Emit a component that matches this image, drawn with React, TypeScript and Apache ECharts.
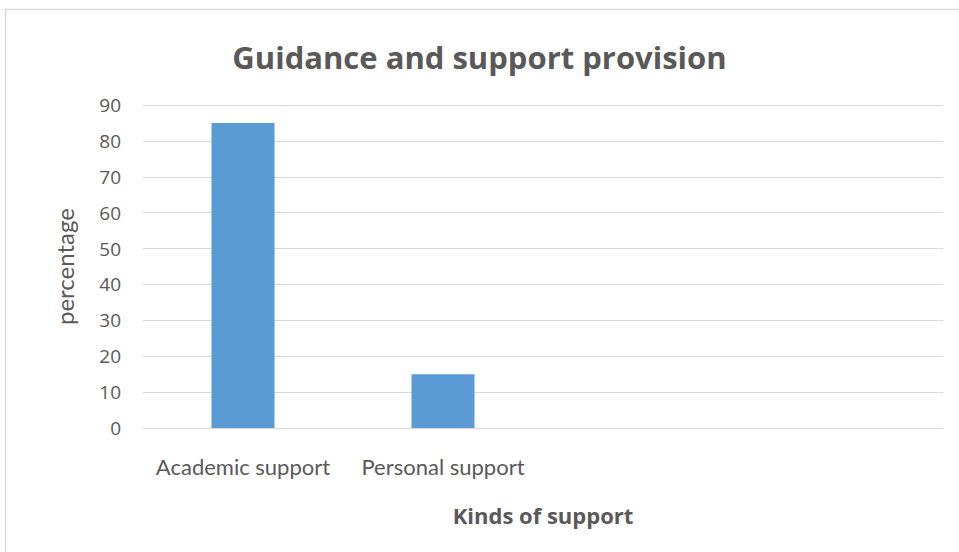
import React, { useEffect, useRef } from "react";
import * as echarts from "echarts";

const categories = ["Academic support", "Personal support", "", ""];
const values = [85, 15, null, null];
const yTicks = { min: 0, max: 90, interval: 10 };
const titleText = "Guidance and support provision";
const xName = "Kinds of support";
const yName = "percentage";

export default function App() {
  const ref = useRef<HTMLDivElement>(null);
  useEffect(() => {
    document.body.style.margin = "0";
    const chart = echarts.init(ref.current!, undefined, { renderer: "svg" });
    const font = "'Open Sans', Lato, sans-serif";
    const lato = "Lato, 'Open Sans', sans-serif";
    chart.setOption({
      animation: false,
      backgroundColor: "#ffffff",
      graphic: [
        {
          type: "rect",
          shape: { x: 5.5, y: 9.5, width: 970, height: 570 },
          style: { fill: "none", stroke: "#d9d9d9", lineWidth: 1.5 },
          silent: true,
        },
      ],
      title: {
        text: titleText,
        left: "center",
        top: 36,
        textStyle: { fontFamily: font, fontSize: 31, fontWeight: "bold", color: "#595959" },
      },
      grid: { left: 143, right: 16, top: 105, bottom: 124 },
      xAxis: {
        type: "category",
        data: categories,
        name: xName,
        nameLocation: "middle",
        nameGap: 76,
        nameTextStyle: { fontFamily: font, fontSize: 22, fontWeight: "bold", color: "#595959" },
        axisLine: { lineStyle: { color: "#d9d9d9" } },
        axisTick: { show: false },
        axisLabel: { fontFamily: lato, fontSize: 22, color: "#595959", margin: 27, interval: 0 },
      },
      yAxis: {
        type: "value",
        min: yTicks.min,
        max: yTicks.max,
        interval: yTicks.interval,
        name: yName,
        nameLocation: "middle",
        nameRotate: 90,
        nameGap: 67,
        nameTextStyle: { fontFamily: lato, fontSize: 24, color: "#595959" },
        axisLine: { show: false },
        axisTick: { show: false },
        axisLabel: { fontFamily: font, fontSize: 19, color: "#595959", margin: 22 },
        splitLine: { lineStyle: { color: "#d9d9d9", width: 1 } },
      },
      series: [
        {
          type: "bar",
          data: values,
          barWidth: 63,
          itemStyle: { color: "#5b9bd5" },
        },
      ],
    });
    return () => chart.dispose();
  }, []);
  return <div ref={ref} style={{ width: 959, height: 552 }} />;
}
